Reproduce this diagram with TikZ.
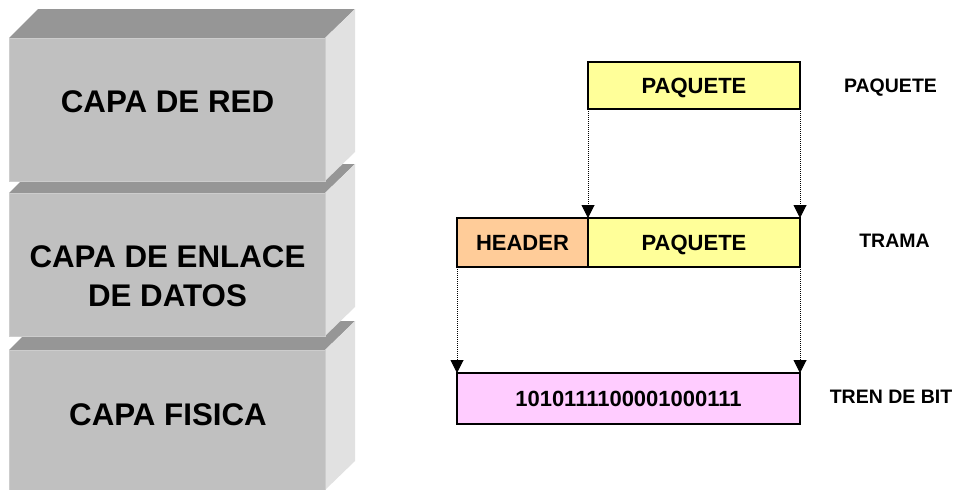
\documentclass[tikz,border=0pt]{standalone}
\usepackage{fontspec}
\setmainfont{Liberation Sans}
\usetikzlibrary{arrows.meta}

\definecolor{facefront}{HTML}{C0C0C0}
\definecolor{facetop}{HTML}{969696}
\definecolor{faceside}{HTML}{E1E1E1}
\definecolor{facerim}{HTML}{CDCDCD}
\definecolor{pktyellow}{HTML}{FFFF99}
\definecolor{hdrorange}{HTML}{FFCC99}
\definecolor{bitpink}{HTML}{FFCCFF}

% One extruded layer block: #1 = top of the front face, #2 = bottom of the front face
\newcommand\layerblock[2]{%
  \fill[facetop]  (9,#1) -- (38,#1-29) -- (355,#1-29) -- (325,#1) -- cycle;
  \fill[faceside] (325,#1) -- (355,#1-29) -- (355,#2-29) -- (325,#2) -- cycle;
  \filldraw[fill=facefront, draw=facerim, line width=0.8pt] (9,#1) rectangle (325,#2);
}

\tikzset{
  layertext/.style={font=\fontsize{31.3}{39}\selectfont\bfseries, inner sep=0pt, align=center},
  sidelabel/.style={font=\fontsize{19.5}{23}\selectfont\bfseries, inner sep=0pt, anchor=base},
  unitbox/.style={draw=black, line width=1.2pt, inner sep=0pt, outer sep=0pt,
    text height=15.75pt, text depth=0pt,
    font=\fontsize{22}{26}\selectfont\bfseries},
  flow/.style={line width=1pt, dash pattern=on 1pt off 1pt,
    -{Triangle[length=13pt,width=13pt]}}
}

\begin{document}
\begin{tikzpicture}[x=1pt, y=-1pt]
  \useasboundingbox (0,0) rectangle (956,490);
  \fill[white] (0,0) rectangle (956,490);

  % layer stack, drawn from the bottom up so each block covers the one beneath
  \layerblock{350}{490}
  \layerblock{193}{336}
  \layerblock{38}{181}

  \node[layertext, anchor=base] (red) at (167.5,112) {CAPA DE RED};
  \node[layertext, anchor=center] (enlace) at (167.5,276.5) {CAPA DE ENLACE\\DE DATOS};
  \node[layertext, anchor=base] (fisica) at (168,425) {CAPA FISICA};

  % encapsulation
  \node[unitbox, fill=pktyellow, minimum width=212pt, minimum height=47pt] (pk1) at (694,85.5) {PAQUETE};
  \node[unitbox, fill=hdrorange, minimum width=131pt, minimum height=49pt] (hdr) at (522.5,242.5) {HEADER};
  \node[unitbox, fill=pktyellow, minimum width=212pt, minimum height=49pt] (pk2) at (694,242.5) {PAQUETE};
  \node[unitbox, fill=bitpink, minimum width=343pt, minimum height=51pt] (bits) at (628.5,398.5) {1010111100001000111};

  \draw[flow] (pk1.south west) -- (pk2.north west);
  \draw[flow] (pk1.south east) -- (pk2.north east);
  \draw[flow] (hdr.south west) -- (bits.north west);
  \draw[flow] (pk2.south east) -- (bits.north east);

  \node[sidelabel] (lpaquete) at (890.5,92.5) {PAQUETE};
  \node[sidelabel] (ltrama) at (894.5,247) {TRAMA};
  \node[sidelabel] (ltren) at (891,403) {TREN DE BIT};
\end{tikzpicture}
\end{document}
